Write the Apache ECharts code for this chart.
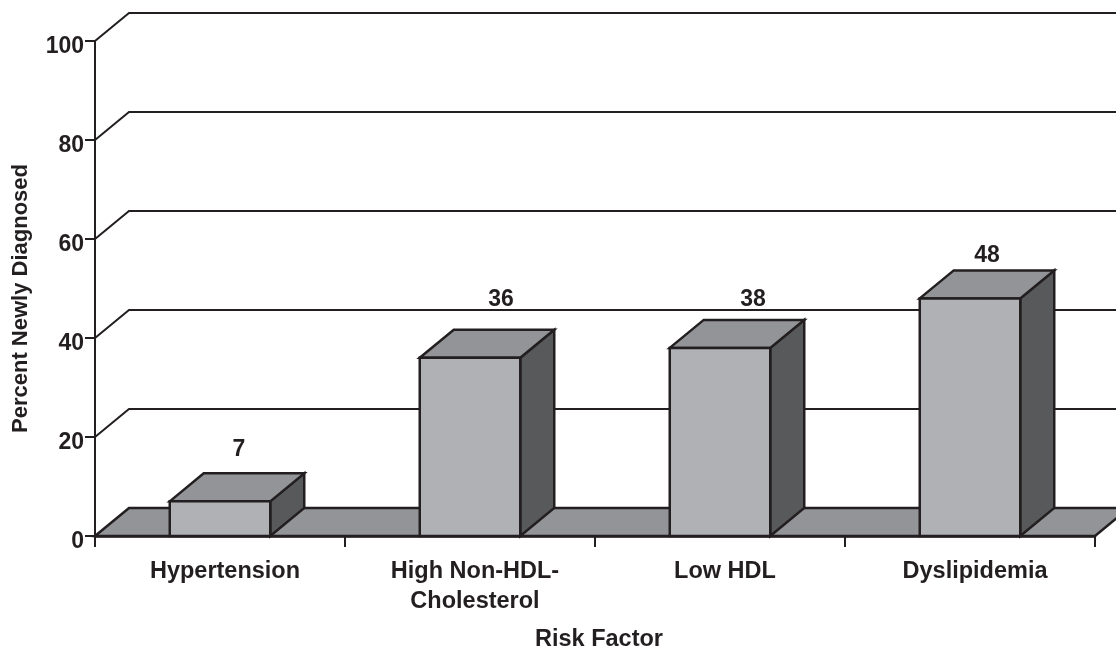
<!DOCTYPE html>
<html>
<head>
<meta charset="utf-8">
<style>html,body{margin:0;padding:0;background:#fff}#c{width:1116px;height:646px}</style>
<script src="https://cdn.jsdelivr.net/npm/echarts@6/dist/echarts.min.js"></script>
</head>
<body>
<div id="c"></div>
<script>
const categories = ['Hypertension', 'High Non-HDL-\nCholesterol', 'Low HDL', 'Dyslipidemia'];
const values = [7, 36, 38, 48];
const wallTicks = [20, 40, 60, 80, 100];

const INK = '#231f20', FRONT = '#b0b1b4', TOP = '#929497', SIDE = '#58595b';
const DX = 34, DY = -28, BAR_FRAC = 0.402;
const labelNudge = [[19, -52], [31, -58], [33, -48], [17, -43]];
const FONT = '"Liberation Sans", Arial, sans-serif';

const chart = echarts.init(document.getElementById('c'), null, { renderer: 'canvas' });

const poly = (pts, fill, w) => ({
  type: 'polygon',
  shape: { points: pts },
  style: { fill: fill, stroke: INK, lineWidth: w, lineJoin: 'miter' }
});

chart.setOption({
  animation: false,
  backgroundColor: '#fff',
  grid: { left: 95, right: 21, top: 41, bottom: 110, containLabel: false, outerBoundsMode: 'none' },
  xAxis: {
    type: 'category',
    data: categories,
    name: 'Risk Factor',
    nameLocation: 'middle',
    nameGap: 92,
    nameTextStyle: { color: INK, fontFamily: FONT, fontWeight: 'bold', fontSize: 23.5, padding: [0, 0, 0, 8] },
    axisLine: { show: true, lineStyle: { color: INK, width: 2.5 } },
    axisTick: { show: true, alignWithLabel: false, length: 11, lineStyle: { color: INK, width: 2 } },
    axisLabel: { color: INK, fontFamily: FONT, fontWeight: 'bold', fontSize: 23.5, lineHeight: 30, margin: 20.5, padding: [0, 0, 0, 10], interval: 0 },
    splitLine: { show: false }
  },
  yAxis: {
    type: 'value',
    min: 0, max: 100, interval: 20,
    name: 'Percent Newly Diagnosed',
    nameLocation: 'middle',
    nameGap: 63,
    nameRotate: 90,
    nameTextStyle: { color: INK, fontFamily: FONT, fontWeight: 'bold', fontSize: 22, padding: [0, 20, 0, 0] },
    axisLine: { show: true, lineStyle: { color: INK, width: 2 } },
    axisTick: { show: true, length: 10, lineStyle: { color: INK, width: 2 } },
    axisLabel: { color: INK, fontFamily: FONT, fontWeight: 'bold', fontSize: 23, margin: 11, verticalAlign: 'top', lineHeight: 12 },
    splitLine: { show: false }
  },
  series: [
    {
      type: 'custom', z: 2, clip: false, silent: true,
      data: [[0, 0]],
      renderItem: (p, api) => {
        const half = api.size([1, 0])[0] / 2;
        const a = api.coord([0, 0]), b = api.coord([categories.length - 1, 0]);
        const l = a[0] - half, r = b[0] + half, y = a[1];
        return poly([[l, y], [l + DX, y + DY], [r + DX, y + DY], [r, y]], TOP, 2.5);
      }
    },
    {
      type: 'custom', z: 3, clip: false, silent: true,
      data: wallTicks.map(v => [0, v]),
      encode: { y: 1 },
      renderItem: (p, api) => {
        const half = api.size([1, 0])[0] / 2;
        const a = api.coord([0, api.value(1)]), b = api.coord([categories.length - 1, api.value(1)]);
        const l = a[0] - half, r = b[0] + half, y = a[1];
        return {
          type: 'polyline',
          shape: { points: [[l, y], [l + DX, y + DY], [r + DX, y + DY]] },
          style: { fill: 'none', stroke: INK, lineWidth: 2 }
        };
      }
    },
    {
      type: 'custom', z: 4, clip: false, silent: true,
      data: values.map((v, i) => [i, v]),
      encode: { x: 0, y: 1 },
      renderItem: (p, api) => {
        const i = api.value(0), v = api.value(1);
        const top = api.coord([i, v]), base = api.coord([i, 0]);
        const w = api.size([1, 0])[0] * BAR_FRAC;
        const l = top[0] - w / 2, r = top[0] + w / 2, t = top[1], b = base[1];
        const n = labelNudge[i];
        return {
          type: 'group',
          children: [
            poly([[r, b], [r + DX, b + DY], [r + DX, t + DY], [r, t]], SIDE, 2.5),
            poly([[l, t], [l + DX, t + DY], [r + DX, t + DY], [r, t]], TOP, 2.5),
            poly([[l, t], [r, t], [r, b], [l, b]], FRONT, 2.5),
            {
              type: 'text',
              style: {
                x: top[0] + n[0], y: t + n[1],
                text: String(v), fill: INK, align: 'center', verticalAlign: 'middle',
                font: 'bold 23px ' + FONT
              }
            }
          ]
        };
      }
    }
  ]
});
</script>
</body>
</html>
